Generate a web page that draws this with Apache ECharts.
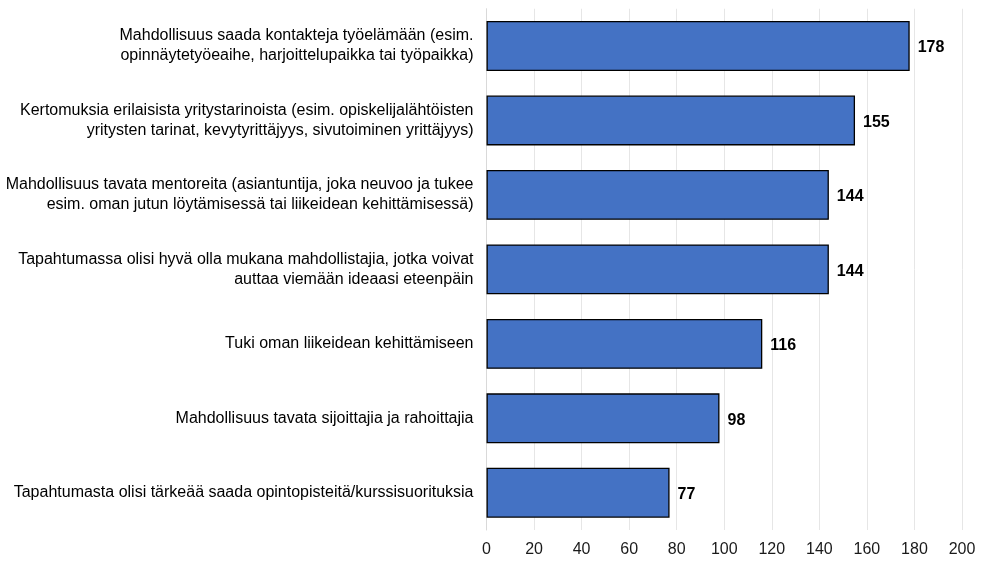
<!DOCTYPE html>
<html><head><meta charset="utf-8">
<script src="https://cdn.jsdelivr.net/npm/echarts@6/dist/echarts.min.js"></script>
<style>html,body{margin:0;padding:0;background:#fff}#c{width:988px;height:566px}</style>
</head><body><div id="c"></div>
<script>
const categories = [
  "Mahdollisuus saada kontakteja työelämään (esim.\nopinnäytetyöeaihe, harjoittelupaikka tai työpaikka)",
  "Kertomuksia erilaisista yritystarinoista (esim. opiskelijalähtöisten\nyritysten tarinat, kevytyrittäjyys, sivutoiminen yrittäjyys)",
  "Mahdollisuus tavata mentoreita (asiantuntija, joka neuvoo ja tukee\nesim. oman jutun löytämisessä tai liikeidean kehittämisessä)",
  "Tapahtumassa olisi hyvä olla mukana mahdollistajia, jotka voivat\nauttaa viemään ideaasi eteenpäin",
  "Tuki oman liikeidean kehittämiseen",
  "Mahdollisuus tavata sijoittajia ja rahoittajia",
  "Tapahtumasta olisi tärkeää saada opintopisteitä/kurssisuorituksia"
];
const values = [178, 155, 144, 144, 116, 98, 77];
const xTicks = [0, 20, 40, 60, 80, 100, 120, 140, 160, 180, 200];

const FONT = 'Liberation Sans, Arial, sans-serif';
const chart = echarts.init(document.getElementById('c'));
chart.setOption({
  animation: false,
  grid: { left: 486.5, right: 26, top: 8.75, bottom: 36, containLabel: false },
  xAxis: {
    type: 'value', min: xTicks[0], max: xTicks[xTicks.length-1], interval: 20,
    axisLine: { show: false },
    axisTick: { show: false },
    splitLine: { show: true, lineStyle: { color: '#e6e6e6', width: 1 } },
    axisLabel: { color: '#1a1a1a', fontFamily: FONT, fontSize: 16, margin: 12 }
  },
  yAxis: {
    type: 'category', data: categories, inverse: true,
    axisLine: { show: true, lineStyle: { color: '#d9d9d9' } },
    axisTick: { show: false },
    axisLabel: { color: '#000', fontFamily: FONT, fontSize: 16, lineHeight: 20, margin: 13, align: 'right',
      padding: [4, 0, 0, 0] }
  },
  series: [{
    type: 'bar', data: values, barCategoryGap: '33%',
    itemStyle: { color: '#4472C4', borderColor: '#000', borderWidth: 1.3 },
    label: { show: true, position: 'right', distance: 8, offset: [0, 2], color: '#000', fontWeight: 'bold',
      fontFamily: FONT, fontSize: 16 }
  }]
});
</script></body></html>
